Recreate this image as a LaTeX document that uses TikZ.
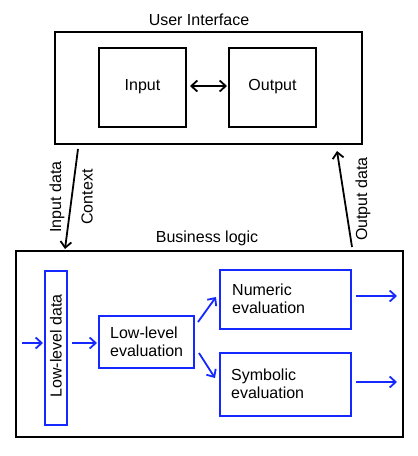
\documentclass[tikz,border=0pt]{standalone}
\usepackage{fontspec}
\setmainfont{Liberation Sans}
\usetikzlibrary{arrows.meta}
\definecolor{bblue}{RGB}{20,40,255}
\begin{document}
\begin{tikzpicture}[x=1pt,y=-1pt,
  every node/.style={font=\fontsize{16}{18.5}\selectfont},
  bbox/.style={draw=black,line width=2.2pt},
  ubox/.style={draw=bblue,line width=2.2pt},
  tip/.tip={Straight Barb[length=6pt,width=11pt]},
  barr/.style={-tip,line width=1.8pt,black},
  uarr/.style={-tip,line width=1.8pt,bblue},
  lbl/.style={inner sep=0pt}]
\useasboundingbox (0,0) rectangle (418,456);
% User interface
\draw[bbox] (55,32) rectangle (362,144);
\node[lbl] (uilbl) at (199,20) {User Interface};
\draw[bbox] (99,48) rectangle (186,127);
\draw[bbox] (229,48) rectangle (316,127);
\node[lbl] (in) at (142.5,87) {Input};
\node[lbl] (out) at (272.5,87) {Output};
\coordinate (inR) at (190,86);
\coordinate (outL) at (227,86);
\draw[tip-tip,line width=1.8pt] (inR) -- (outL);
% Business logic
\draw[bbox] (16,251) rectangle (403,437);
\node[lbl] (bllbl) at (207,238) {Business logic};
% arrows between
\coordinate (ia) at (78,149);
\coordinate (ib) at (65,249);
\draw[barr] (ia) -- (ib);
\coordinate (oa) at (352,247);
\coordinate (ob) at (337,151);
\draw[barr] (oa) -- (ob);
\node[lbl,rotate=90] (idl) at (57,197) {Input data};
\node[lbl,rotate=90] (ctx) at (87,197) {Context};
\node[lbl,rotate=90] (odl) at (363,199) {Output data};
% blue boxes
\draw[ubox] (45,271) rectangle (67,425);
\node[lbl,rotate=90] (lld) at (56,346) {Low-level data};
\draw[ubox] (99,316) rectangle (194,368);
\node[lbl,align=left,anchor=west] (lle) at (110,342) {Low-level\\evaluation};
\draw[ubox] (220,270) rectangle (351,329);
\node[lbl,align=left,anchor=west] (num) at (232,299) {Numeric\\evaluation};
\draw[ubox] (220,353) rectangle (351,416);
\node[lbl,align=left,anchor=west] (sym) at (231,384) {Symbolic\\evaluation};
% blue arrows
\coordinate (a1) at (22,343);
\coordinate (a2) at (43,343);
\draw[uarr] (a1) -- (a2);
\coordinate (b1) at (72,343);
\coordinate (b2) at (97,343);
\draw[uarr] (b1) -- (b2);
\coordinate (c1) at (198,322);
\coordinate (c2) at (216,297);
\draw[uarr] (c1) -- (c2);
\coordinate (d1) at (199,353);
\coordinate (d2) at (215,378);
\draw[uarr] (d1) -- (d2);
\coordinate (e1) at (356,296);
\coordinate (e2) at (397,296);
\draw[uarr] (e1) -- (e2);
\coordinate (f1) at (356,382);
\coordinate (f2) at (397,382);
\draw[uarr] (f1) -- (f2);
\end{tikzpicture}
\end{document}
